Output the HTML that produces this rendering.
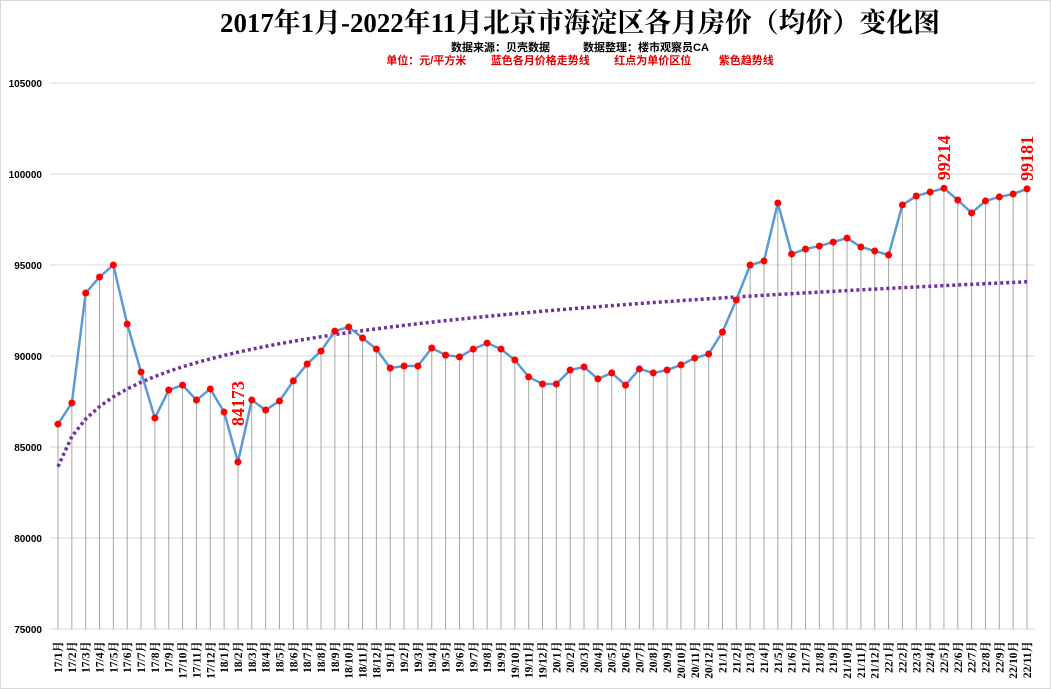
<!DOCTYPE html>
<html><head><meta charset="utf-8"><style>
body{margin:0;background:#fff}
svg{display:block}
</style></head><body>
<svg id="chart" width="1051" height="689" xmlns="http://www.w3.org/2000/svg">
<rect x="0.5" y="0.5" width="1050" height="688" fill="#fff" stroke="#d9d9d9"/>
<text x="580" y="32" text-anchor="middle" font-family="'Liberation Serif','Noto Serif CJK SC',serif" font-weight="bold" font-size="27" textLength="720" lengthAdjust="spacingAndGlyphs">2017年1月-2022年11月北京市海淀区各月房价（均价）变化图</text>
<text x="580" y="51" text-anchor="middle" font-family="'Liberation Sans','Noto Sans CJK SC',sans-serif" font-weight="bold" font-size="11">数据来源：贝壳数据　　　数据整理：楼市观察员CA</text>
<text x="580" y="64" text-anchor="middle" fill="#e00000" font-family="'Liberation Sans','Noto Sans CJK SC',sans-serif" font-weight="bold" font-size="11" xml:space="preserve">单位：元/平方米        蓝色各月价格走势线        红点为单价区位         紫色趋势线</text>
<g id="grid"></g><g id="drops"></g><g id="trend"></g><g id="line"></g><g id="dots"></g><g id="labels"></g><g id="yaxis"></g><g id="xaxis"></g>
</svg>
<script>
const categories=[];
for(let y=17;y<=22;y++){for(let m=1;m<=12;m++){if(y===22&&m>11)break;categories.push(y+'/'+m+'月');}}
const prices=[86260,87420,93460,94340,95000,91760,89120,86590,88130,88400,87580,88190,
86920,84173,87580,87030,87530,88630,89560,90270,91370,91590,90990,90380,
89340,89450,89450,90440,90050,89950,90380,90710,90380,89780,88850,88460,
88460,89230,89400,88740,89070,88400,89290,89070,89230,89510,89890,90110,
91320,93080,95000,95220,98410,95600,95880,96040,96260,96480,95990,95770,
95550,98300,98790,99010,99214,98570,97860,98520,98740,98900,99181];
const yTicks=[75000,80000,85000,90000,95000,100000,105000];
const labeledIdx=[13,64,70];
const NS='http://www.w3.org/2000/svg';
const x0=58,x1=1027,yMin=75000,yMax=105000,py0=629,py1=83;
const X=i=>x0+(x1-x0)*i/(prices.length-1);
const Y=v=>py0-(v-yMin)/(yMax-yMin)*(py0-py1);
function mk(t,a,p){const e=document.createElementNS(NS,t);for(const k in a)e.setAttribute(k,a[k]);p.appendChild(e);return e;}
const g=id=>document.getElementById(id);
yTicks.forEach(v=>{
 const l=mk('line',{x1:50,x2:1035,y1:Y(v),y2:Y(v),stroke:'#d9d9d9','stroke-width':1},g('grid'));
 
 const t=mk('text',{x:42,y:Y(v)+4,'text-anchor':'end','font-family':'Liberation Sans,sans-serif','font-size':10,'font-weight':'bold'},g('yaxis'));
 t.textContent=v;
});
prices.forEach((v,i)=>{
 const d=mk('line',{x1:X(i),x2:X(i),y1:Y(v),y2:py0,stroke:'#a6a6a6','stroke-width':1},g('drops'));
 
 const t=mk('text',{transform:`translate(${X(i)+4},641) rotate(-90)`,'text-anchor':'end','font-family':"'Liberation Serif','Noto Serif CJK SC',serif",'font-size':11.5,'font-weight':'bold'},g('xaxis'));
 t.textContent=categories[i];
});
let n=prices.length,sx=0,sy=0,sxx=0,sxy=0;
prices.forEach((v,i)=>{const l=Math.log(i+1);sx+=l;sy+=v;sxx+=l*l;sxy+=l*v;});
const b=(n*sxy-sx*sy)/(n*sxx-sx*sx),a=(sy-b*sx)/n;
const tp=prices.map((v,i)=>X(i)+','+Y(a+b*Math.log(i+1))).join(' ');
const tr=mk('polyline',{points:tp,fill:'none',stroke:'#7030a0','stroke-width':3.5,'stroke-dasharray':'3 3'},g('trend'));

const pl=mk('polyline',{points:prices.map((v,i)=>X(i)+','+Y(v)).join(' '),fill:'none',stroke:'#5b9bd5','stroke-width':2.5},g('line'));

prices.forEach((v,i)=>{
 const c=mk('circle',{cx:X(i),cy:Y(v),r:3.5,fill:'#ff0000'},g('dots'));
 
});
labeledIdx.forEach(i=>{
 const off=(i>0&&prices[i]<prices[i-1]&&prices[i]<prices[i+1])?36:8;
 const t=mk('text',{transform:`translate(${X(i)+6},${Y(prices[i])-off}) rotate(-90)`,'font-family':'Liberation Serif,serif','font-size':18,'font-weight':'bold',fill:'#ff0000'},g('labels'));
 t.textContent=prices[i];
});
</script>
</body></html>
